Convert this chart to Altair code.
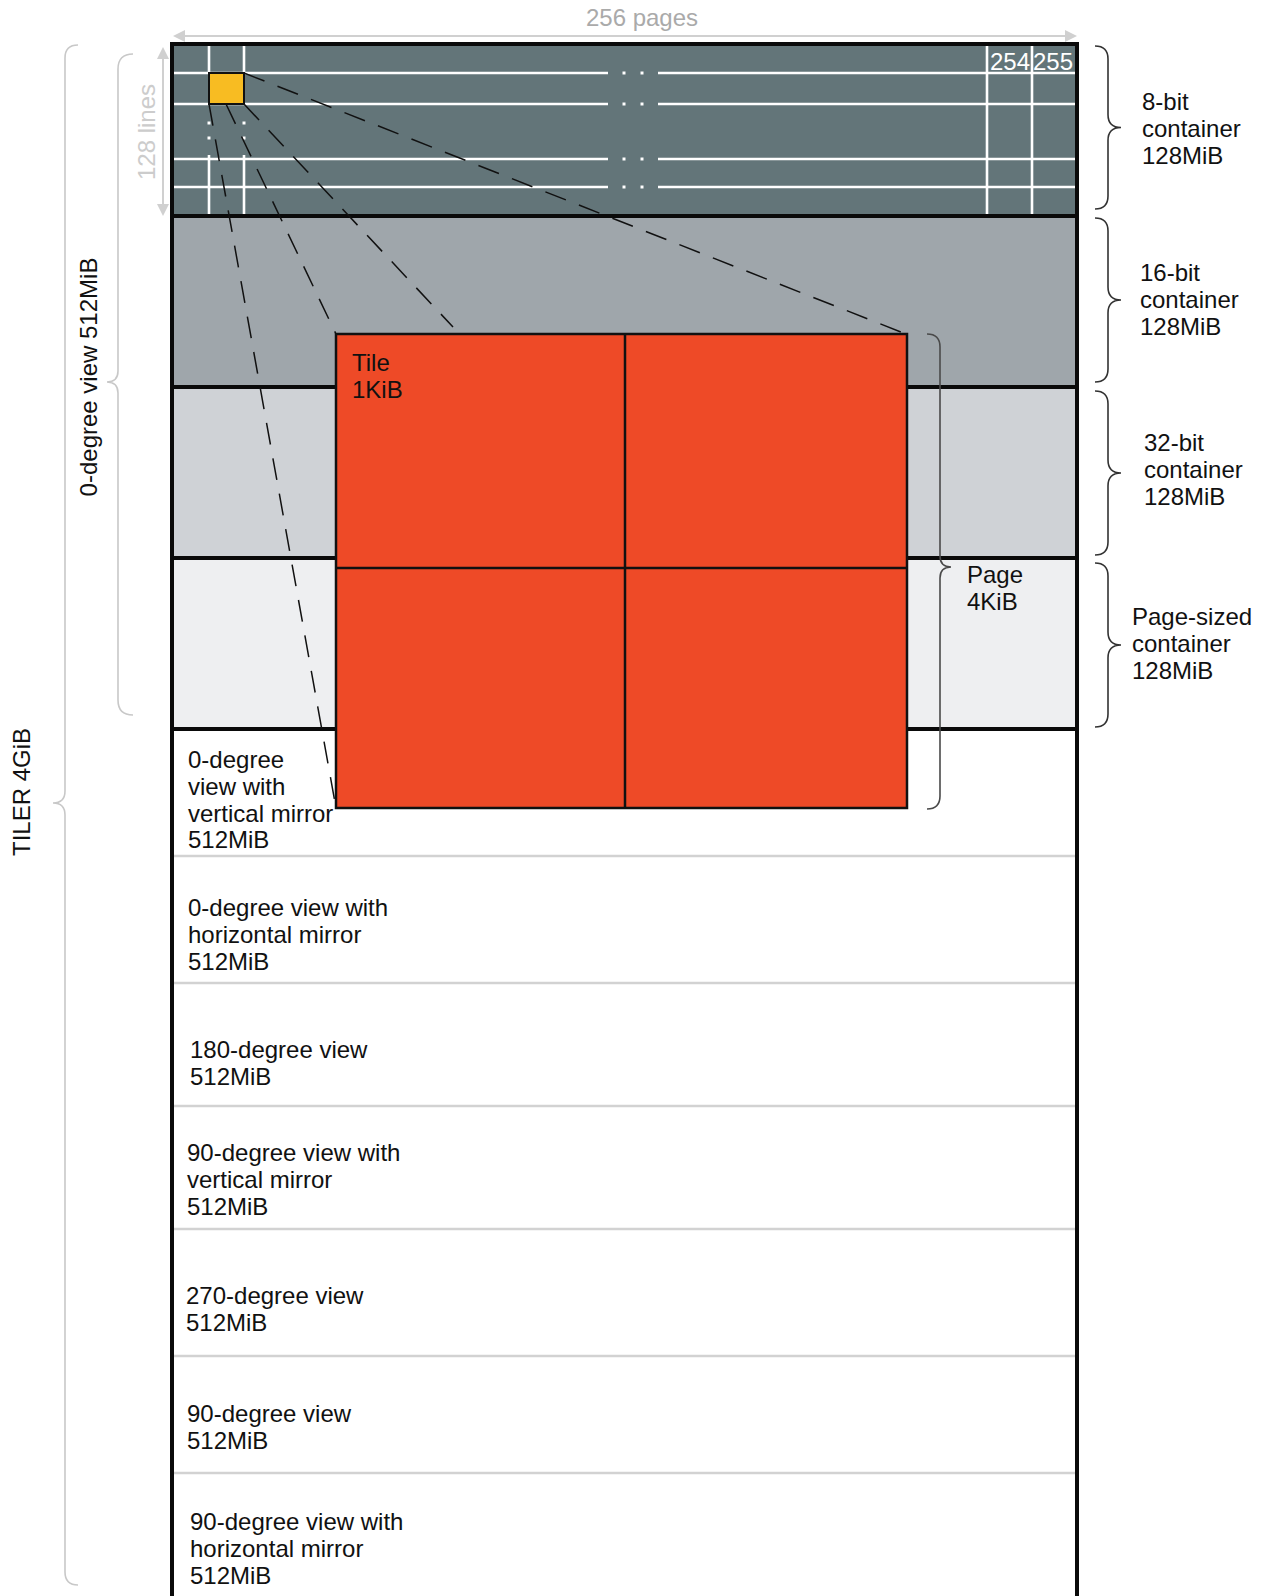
import altair as alt
import pandas as pd

# ---------------- data ----------------
FONT = "Liberation Sans"
FS = 24
LINE_H = 26.8

BOX_X = [172, 1077]
BAND_EDGES = [44, 216, 387, 558, 729]
BAND_COLORS = ["#637579", "#9fa6ab", "#cfd2d6", "#eeeff1"]
VIEW_SEPS = [856, 983, 1106, 1229, 1356, 1473]

GRID_H_Y = [73, 104, 159, 187]
GRID_H_SEGS = [(174, 608), (658, 1075)]
GRID_H_DOTS_X = [624, 642]
GRID_V_LEFT_X = [209, 244]
GRID_V_LEFT_SEGS = [(45, 73), (155, 216)]
GRID_V_LEFT_DOTS_Y = [123, 138]
GRID_V_RIGHT_X = [987, 1032]
COL_LABELS = ["254", "255"]
COL_LABEL_X = [1010, 1053]
COL_LABEL_Y = 63

YELLOW = [209, 244, 73, 104]
RED = [336, 907, 334, 808]
RED_MID = [625, 568]

DASH_FROM = [(244, 73), (209, 104), (226, 104), (244, 104)]
DASH_TO = [(906, 334), (336, 808), (336, 334), (453, 327)]

# braces: (x_end, x_vert, x_tip, y_top, y_bottom, y_tip, color)
RIGHT_BRACE_Y = [(46, 209), (218, 382), (391, 555), (563, 727)]
BRACES = [(1095, 1108, 1121, a, b, (a + b) / 2, "#333333") for a, b in RIGHT_BRACE_Y]
BRACES += [
    (927, 940, 951, 334, 809, 567, "#4a4a4a"),   # Page 4KiB
    (133, 118, 107, 54, 715, 382, "#c8c8c8"),    # 0-degree view
    (78, 65, 53, 45, 1585, 803, "#c8c8c8"),      # TILER
]

ARROW_H = (173, 1077, 36)   # x0, x1, y
ARROW_V = (163, 47, 216)    # x, y0, y1

RIGHT_LABELS = [["8-bit", "container", "128MiB"],
                ["16-bit", "container", "128MiB"],
                ["32-bit", "container", "128MiB"],
                ["Page-sized", "container", "128MiB"]]
RIGHT_LABEL_X = [1142, 1140, 1144, 1132]
RIGHT_LABEL_Y = [103, 274, 444, 618]

INNER_LABELS = [["Tile", "1KiB"], ["Page", "4KiB"]]
INNER_LABEL_X = [352, 967]
INNER_LABEL_Y = [364, 576]

VIEW_LABELS = [["0-degree", "view with", "vertical mirror", "512MiB"],
               ["0-degree view with", "horizontal mirror", "512MiB"],
               ["180-degree view", "512MiB"],
               ["90-degree view with", "vertical mirror", "512MiB"],
               ["270-degree view", "512MiB"],
               ["90-degree view", "512MiB"],
               ["90-degree view with", "horizontal mirror", "512MiB"]]
VIEW_LABEL_X = [188, 188, 190, 187, 186, 187, 190]
VIEW_LABEL_Y = [761, 909, 1051, 1154, 1297, 1415, 1523]

ROT_LABELS = ["128 lines", "0-degree view 512MiB", "TILER 4GiB"]
ROT_X = [148, 90, 23]
ROT_Y = [132, 377, 792]
ROT_COLORS = ["#cccccc", "#111111", "#111111"]

TOP_LABEL = "256 pages"
TOP_LABEL_POS = (642, 18.5)

# ---------------- scales (1 data unit = 1 page pixel) ----------------
W, H = 1249, 1588
xs = alt.Scale(domain=[8, 8 + W], nice=False, zero=False)
ys = alt.Scale(domain=[8, 8 + H], nice=False, zero=False, reverse=True)
BOTTOM = 8 + H


def enc_xy(extra2=False):
    d = dict(x=alt.X("x:Q", scale=xs, axis=None), y=alt.Y("y:Q", scale=ys, axis=None))
    if extra2:
        d.update(x2=alt.X2("x2:Q"), y2=alt.Y2("y2:Q"))
    return d


def rects(rows, stroke=None, sw=0):
    df = pd.DataFrame(rows, columns=["x", "x2", "y", "y2", "fill"])
    kw = {}
    if stroke:
        kw = dict(stroke=stroke, strokeWidth=sw)
    return alt.Chart(df).mark_rect(**kw).encode(
        fill=alt.Fill("fill:N", scale=None), **enc_xy(True))


def rules(rows, color, width, dash=None):
    df = pd.DataFrame(rows, columns=["x", "y", "x2", "y2"])
    kw = dict(color=color, strokeWidth=width)
    if dash:
        kw["strokeDash"] = dash
    return alt.Chart(df).mark_rule(**kw).encode(**enc_xy(True))


def texts(rows, size=FS, angle=0, align="left"):
    df = pd.DataFrame(rows, columns=["x", "y", "text", "color"])
    kw = dict(font=FONT, fontSize=size, align=align, baseline="middle")
    if angle:
        kw["angle"] = angle
    return alt.Chart(df).mark_text(**kw).encode(
        text="text:N", color=alt.Color("color:N", scale=None), **enc_xy())


def paths(rows, filled, width=1.6):
    df = pd.DataFrame(rows, columns=["x", "y", "path", "color"])
    if filled:
        m = alt.Chart(df).mark_point(filled=True, opacity=1, size=4, strokeWidth=0)
        return m.encode(shape=alt.Shape("path:N", scale=None),
                        fill=alt.Fill("color:N", scale=None), **enc_xy())
    m = alt.Chart(df).mark_point(filled=False, opacity=1, size=4, strokeWidth=width)
    return m.encode(shape=alt.Shape("path:N", scale=None),
                    stroke=alt.Stroke("color:N", scale=None), **enc_xy())


def f(v):
    return f"{v:.1f}"


def brace_path(xe, xv, xt, y0, y1, ym):
    e, t = xe - xv, xt - xv
    top, bot = y0 - ym, y1 - ym
    r, rt = abs(e), abs(t)
    return (f"M{f(e)},{f(top)} Q0,{f(top)} 0,{f(top + r)} L0,{f(-rt)} "
            f"Q0,0 {f(t)},0 Q0,0 0,{f(rt)} L0,{f(bot - r)} Q0,{f(bot)} {f(e)},{f(bot)}")


# ---------------- layers ----------------
layers = []

band_rows = [(BOX_X[0], BOX_X[1], BAND_EDGES[i], BAND_EDGES[i + 1], BAND_COLORS[i])
             for i in range(len(BAND_COLORS))]
layers.append(rects(band_rows))

wl = []
for y in GRID_H_Y:
    for a, b in GRID_H_SEGS:
        wl.append((a, y, b, y))
for x in GRID_V_LEFT_X:
    for a, b in GRID_V_LEFT_SEGS:
        wl.append((x, a, x, b))
for x in GRID_V_RIGHT_X:
    wl.append((x, BAND_EDGES[0], x, BAND_EDGES[1]))
layers.append(rules(wl, "#ffffff", 2.6))

dots = [(x, y) for y in GRID_H_Y for x in GRID_H_DOTS_X]
dots += [(x, y) for x in GRID_V_LEFT_X for y in GRID_V_LEFT_DOTS_Y]
layers.append(alt.Chart(pd.DataFrame(dots, columns=["x", "y"])).mark_point(
    shape="square", filled=True, size=9, opacity=1, color="#ffffff").encode(**enc_xy()))

layers.append(texts([(COL_LABEL_X[i], COL_LABEL_Y, COL_LABELS[i], "#ffffff")
                     for i in range(2)], align="center"))

layers.append(rects([(YELLOW[0], YELLOW[1], YELLOW[2], YELLOW[3], "#f8bc22")],
                    stroke="#111111", sw=2))

layers.append(rules([(BOX_X[0] + 2, y, BOX_X[1] - 2, y) for y in VIEW_SEPS], "#d2d2d2", 2.5))

bl = [(BOX_X[0] - 2, y, BOX_X[1] + 2, y) for y in BAND_EDGES]
bl += [(x, BAND_EDGES[0] - 2, x, BOTTOM) for x in BOX_X]
layers.append(rules(bl, "#0a0a0a", 4))

layers.append(rules([(a[0], a[1], b[0], b[1]) for a, b in zip(DASH_FROM, DASH_TO)],
                    "#111111", 1.5, dash=[22, 14]))

layers.append(rects([(RED[0], RED[1], RED[2], RED[3], "#ee4a27")],
                    stroke="#111111", sw=2.5))
layers.append(rules([(RED_MID[0], RED[2], RED_MID[0], RED[3]),
                     (RED[0], RED_MID[1], RED[1], RED_MID[1])], "#111111", 2.5))

layers.append(rules([(ARROW_H[0] + 6, ARROW_H[2], ARROW_H[1] - 6, ARROW_H[2]),
                     (ARROW_V[0], ARROW_V[1] + 6, ARROW_V[0], ARROW_V[2] - 6)], "#d0d0d0", 2))
heads = [(ARROW_H[0], ARROW_H[2], "M0,0 L12,-6 L12,6 Z", "#d0d0d0"),
         (ARROW_H[1], ARROW_H[2], "M0,0 L-12,-6 L-12,6 Z", "#d0d0d0"),
         (ARROW_V[0], ARROW_V[1], "M0,0 L-6,12 L6,12 Z", "#d0d0d0"),
         (ARROW_V[0], ARROW_V[2], "M0,0 L-6,-12 L6,-12 Z", "#d0d0d0")]
layers.append(paths(heads, filled=True))

brows = [(b[1], b[5], brace_path(*b[:6]), b[6]) for b in BRACES]
layers.append(paths(brows, filled=False, width=1.6))

tr = []
for lines, x, y in zip(RIGHT_LABELS, RIGHT_LABEL_X, RIGHT_LABEL_Y):
    tr += [(x, y + i * LINE_H, s, "#111111") for i, s in enumerate(lines)]
for lines, x, y in zip(INNER_LABELS, INNER_LABEL_X, INNER_LABEL_Y):
    tr += [(x, y + i * LINE_H, s, "#111111") for i, s in enumerate(lines)]
for lines, x, y in zip(VIEW_LABELS, VIEW_LABEL_X, VIEW_LABEL_Y):
    tr += [(x, y + i * LINE_H, s, "#111111") for i, s in enumerate(lines)]
layers.append(texts(tr))
layers.append(texts([(TOP_LABEL_POS[0], TOP_LABEL_POS[1], TOP_LABEL, "#aaaaaa")], align="center"))
layers.append(texts([(ROT_X[i], ROT_Y[i], ROT_LABELS[i], ROT_COLORS[i]) for i in range(3)],
                    angle=270, align="center"))

chart = alt.layer(*layers).properties(
    width=W, height=H, padding=0, autosize=alt.AutoSizeParams(type="none")
).configure_view(strokeWidth=0)

chart.save("out.html", embed_options={"renderer": "svg", "actions": False})
